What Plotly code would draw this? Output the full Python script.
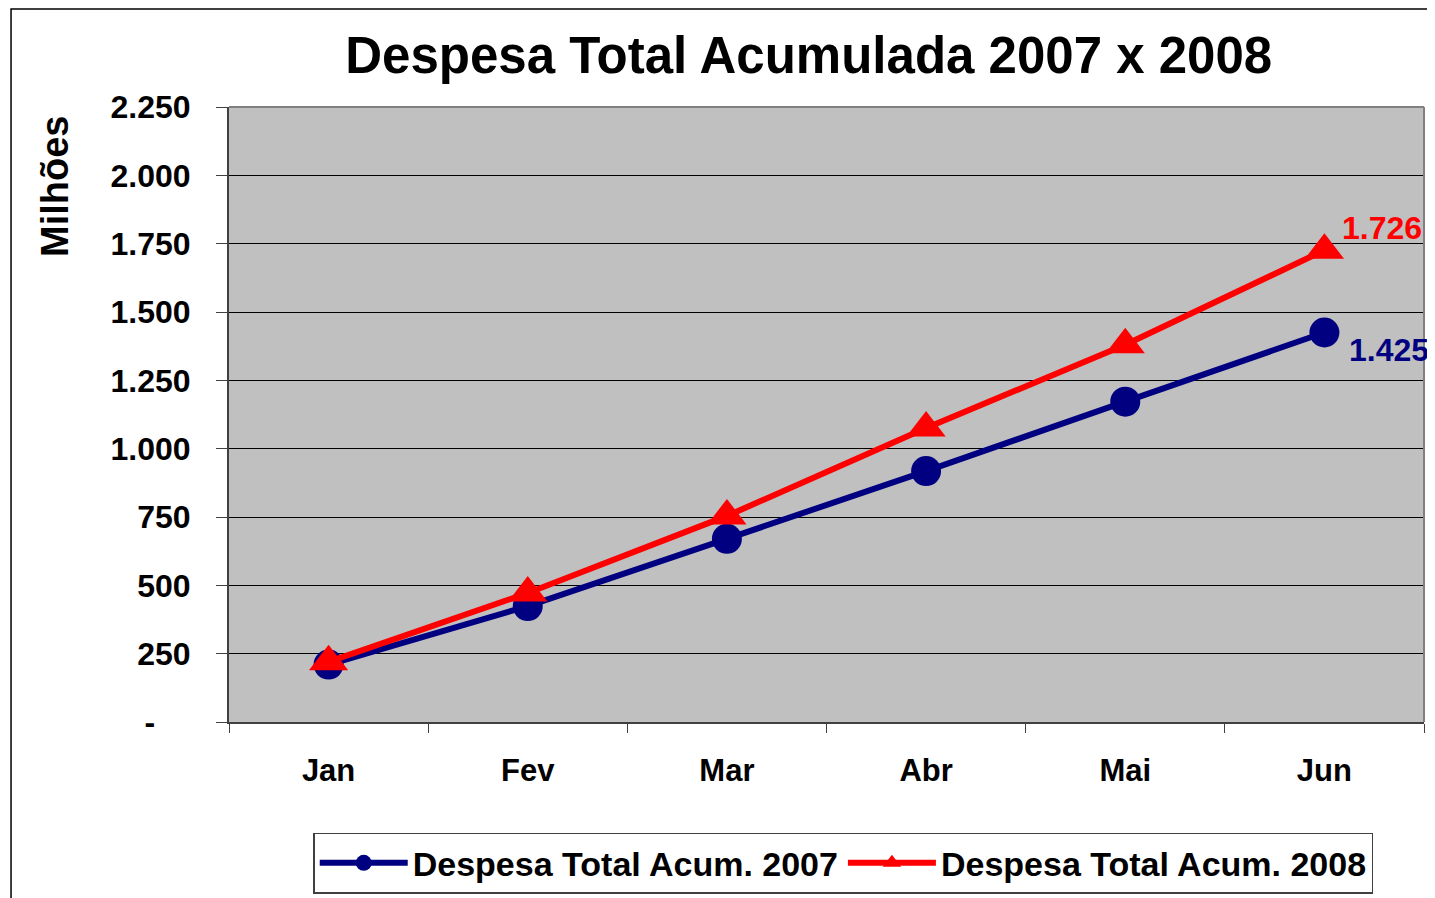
import plotly.graph_objects as go

# Monthly accumulated expenses (millions)
months = ['Jan', 'Fev', 'Mar', 'Abr', 'Mai', 'Jun']
desp_2007 = [210, 424, 670, 918, 1172, 1425]
desp_2008 = [220, 472, 754, 1076, 1380, 1726]
y_ticks = [0, 250, 500, 750, 1000, 1250, 1500, 1750, 2000, 2250]
y_tick_labels = ['-\u00a0\u00a0\u00a0\u00a0', '250', '500', '750', '1.000', '1.250',
                 '1.500', '1.750', '2.000', '2.250']

font_family = 'Arial, Liberation Sans, sans-serif'
navy = '#000080'
red = '#FF0000'

fig = go.Figure()

fig.add_trace(go.Scatter(
    x=months, y=desp_2007, name='Despesa Total Acum. 2007',
    mode='lines+markers',
    line=dict(color=navy, width=6),
    marker=dict(symbol='circle', size=30, color=navy),
))
fig.add_trace(go.Scatter(
    x=months, y=desp_2008, name='Despesa Total Acum. 2008',
    mode='lines+markers',
    line=dict(color=red, width=6),
    marker=dict(symbol='triangle-up', size=34, color=red),
))

# value labels on the last point
fig.add_annotation(x=months[-1], y=desp_2008[-1], text='1.726',
                   showarrow=False, xanchor='left', xshift=16, yshift=22,
                   font=dict(family=font_family, size=32, color=red, weight='bold'))
fig.add_annotation(x=months[-1], y=desp_2007[-1], text='1.425',
                   showarrow=False, xanchor='left', xshift=23, yshift=-17,
                   font=dict(family=font_family, size=32, color=navy, weight='bold'))

# y axis title sits near the top, as in the original
fig.add_annotation(xref='paper', yref='paper', x=-0.1456, y=0.870,
                   text='Milhões', textangle=-90, showarrow=False,
                   xanchor='center', yanchor='middle',
                   font=dict(family=font_family, size=38, color='black', weight='bold'))

# outer chart frame
fig.add_shape(type='rect', xref='paper', yref='paper',
              x0=-0.1824, x1=1.03, y0=-0.32, y1=1.1593,
              line=dict(color='black', width=1.5), layer='below')

fig.update_layout(
    width=1435, height=898,
    paper_bgcolor='white',
    plot_bgcolor='#C0C0C0',
    margin=dict(l=221, r=19, t=99, b=184),
    separators=',.',
    title=dict(
        text='Despesa Total Acumulada 2007 x 2008',
        x=0.558, xanchor='center', y=0.948, yanchor='middle',
        font=dict(family=font_family, size=51, color='black', weight='bold'),
    ),
    xaxis=dict(
        type='category',
        showgrid=False,
        showline=True, linecolor='#404040', linewidth=2,
        ticks='outside', tickson='boundaries', ticklen=9, tickcolor='#404040',
        ticklabelstandoff=20,
        tickfont=dict(family=font_family, size=31, color='black', weight='bold'),
        range=[-0.5, 5.5],
    ),
    yaxis=dict(
        range=[0, 2250],
        tickvals=y_ticks, ticktext=y_tick_labels,
        showgrid=True, gridcolor='black', gridwidth=1,
        showline=True, linecolor='#404040', linewidth=2,
        ticks='outside', ticklen=11, tickcolor='#404040',
        ticklabelstandoff=19,
        tickfont=dict(family=font_family, size=32, color='black', weight='bold'),
        zeroline=False,
    ),
    legend=dict(
        orientation='h',
        x=0.514, xanchor='center', y=-0.18, yanchor='top',
        bordercolor='#404040', borderwidth=1.5,
        bgcolor='white',
        font=dict(family=font_family, size=34, color='black', weight='bold'),
        itemwidth=88,
    ),
    showlegend=True,
)

# top/right plot border in gray
fig.add_shape(type='line', xref='paper', yref='paper', x0=0, x1=1, y0=1, y1=1,
              line=dict(color='#808080', width=2))
fig.add_shape(type='line', xref='paper', yref='paper', x0=1, x1=1, y0=0, y1=1,
              line=dict(color='#808080', width=2))

fig.write_html('out.html')
